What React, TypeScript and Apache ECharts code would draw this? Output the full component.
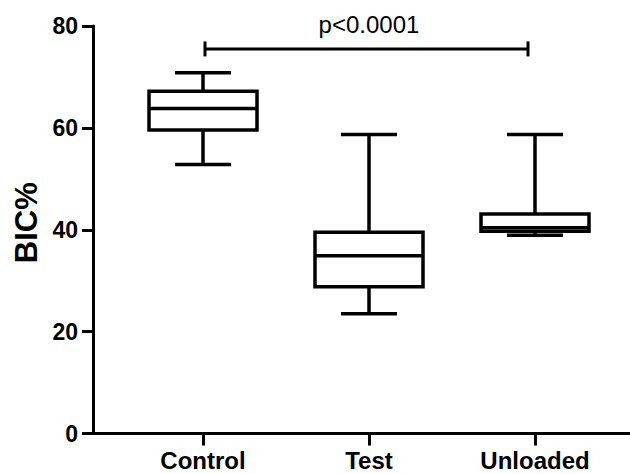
import React, { useEffect, useRef } from "react";
import * as echarts from "echarts";

const categories = ["Control", "Test", "Unloaded"];
const lowWhisker = [52.8, 23.5, 38.9];
const q1 = [59.6, 28.8, 39.7];
const median = [63.8, 34.9, 40.4];
const q3 = [67.2, 39.5, 43.1];
const highWhisker = [70.8, 58.7, 58.7];

const yMin = 0;
const yMax = 80;
const yInterval = 20;
const yAxisTitle = "BIC%";

const bracketPair = ["Control", "Unloaded"];
const bracketY = [75.5];
const significanceLabel = "p<0.0001";

const FONT = "'Liberation Sans', Arial, Helvetica, sans-serif";

export default function App() {
  const ref = useRef<HTMLDivElement>(null);

  useEffect(() => {
    if (!ref.current) return;
    const chart = echarts.init(ref.current, undefined, { renderer: "svg" });

    const boxData = categories.map((c, i) => [
      i,
      lowWhisker[i],
      q1[i],
      median[i],
      q3[i],
      highWhisker[i],
    ]);
    const bracketData = [
      [
        categories.indexOf(bracketPair[0]),
        categories.indexOf(bracketPair[1]),
        bracketY[0],
      ],
    ];

    const option: any = {
      animation: false,
      backgroundColor: "#fff",
      grid: [
        { left: 93, right: 0, top: 26, bottom: 40.5 },
        { left: 120, width: 498, top: 26, bottom: 40.5 },
      ],
      xAxis: [
        {
          gridIndex: 0,
          type: "value",
          min: 0,
          max: 1,
          axisLine: { show: true, lineStyle: { color: "#000", width: 3 } },
          axisTick: { show: false },
          axisLabel: { show: false },
          splitLine: { show: false },
        },
        {
          gridIndex: 1,
          type: "category",
          data: categories,
          axisLine: { show: false },
          axisTick: {
            show: true,
            alignWithLabel: true,
            length: 12,
            lineStyle: { color: "#000", width: 3 },
          },
          axisLabel: {
            color: "#000",
            fontWeight: "bold",
            fontSize: 24,
            fontFamily: FONT,
            margin: 15,
          },
          splitLine: { show: false },
        },
      ],
      yAxis: [
        {
          gridIndex: 0,
          type: "value",
          min: yMin,
          max: yMax,
          interval: yInterval,
          name: yAxisTitle,
          nameLocation: "middle",
          nameGap: 51,
          nameTextStyle: {
            color: "#000",
            fontWeight: "bold",
            fontSize: 31,
            fontFamily: FONT,
            padding: [0, 0, 0, 14],
          },
          axisLine: { show: true, lineStyle: { color: "#000", width: 3 } },
          axisTick: {
            show: true,
            length: 11,
            lineStyle: { color: "#000", width: 3 },
          },
          axisLabel: {
            color: "#000",
            fontWeight: "bold",
            fontSize: 23,
            fontFamily: FONT,
            margin: 15,
          },
          splitLine: { show: false },
        },
        {
          gridIndex: 1,
          type: "value",
          min: yMin,
          max: yMax,
          interval: yInterval,
          show: false,
          splitLine: { show: false },
        },
      ],
      series: [
        {
          type: "custom",
          xAxisIndex: 1,
          yAxisIndex: 1,
          clip: false,
          data: boxData,
          encode: { x: 0, y: [1, 2, 3, 4, 5] },
          renderItem: (params: any, api: any) => {
            const idx = api.value(0);
            const pLow = api.coord([idx, api.value(1)]);
            const pQ1 = api.coord([idx, api.value(2)]);
            const pMed = api.coord([idx, api.value(3)]);
            const pQ3 = api.coord([idx, api.value(4)]);
            const pHigh = api.coord([idx, api.value(5)]);
            const cx = pMed[0];
            const half = 54;
            const cap = 28;
            const ls = { stroke: "#000", lineWidth: 3.5, fill: "none" };
            return {
              type: "group",
              children: [
                { type: "line", shape: { x1: cx, y1: pHigh[1], x2: cx, y2: pQ3[1] }, style: ls },
                { type: "line", shape: { x1: cx, y1: pQ1[1], x2: cx, y2: pLow[1] }, style: ls },
                { type: "line", shape: { x1: cx - cap, y1: pHigh[1], x2: cx + cap, y2: pHigh[1] }, style: ls },
                { type: "line", shape: { x1: cx - cap, y1: pLow[1], x2: cx + cap, y2: pLow[1] }, style: ls },
                {
                  type: "rect",
                  shape: { x: cx - half, y: pQ3[1], width: half * 2, height: pQ1[1] - pQ3[1] },
                  style: { fill: "#fff", stroke: "#000", lineWidth: 3.5 },
                },
                { type: "line", shape: { x1: cx - half, y1: pMed[1], x2: cx + half, y2: pMed[1] }, style: ls },
              ],
            };
          },
        },
        {
          type: "custom",
          xAxisIndex: 1,
          yAxisIndex: 1,
          clip: false,
          data: bracketData,
          encode: { x: [0, 1], y: 2 },
          renderItem: (params: any, api: any) => {
            const a = api.coord([api.value(0), api.value(2)]);
            const b = api.coord([api.value(1), api.value(2)]);
            const x1 = a[0] + 2;
            const x2 = b[0] - 7;
            const y = a[1];
            const ls = { stroke: "#000", lineWidth: 3, fill: "none" };
            return {
              type: "group",
              children: [
                { type: "line", shape: { x1, y1: y, x2, y2: y }, style: ls },
                { type: "line", shape: { x1, y1: y - 7.5, x2: x1, y2: y + 7.5 }, style: ls },
                { type: "line", shape: { x1: x2, y1: y - 7.5, x2, y2: y + 7.5 }, style: ls },
                {
                  type: "text",
                  x: (a[0] + b[0]) / 2,
                  y: y - 12,
                  style: {
                    text: significanceLabel,
                    fill: "#000",
                    fontSize: 24,
                    fontFamily: FONT,
                    align: "center",
                    verticalAlign: "bottom",
                  },
                },
              ],
            };
          },
        },
      ],
    };

    chart.setOption(option);
    return () => chart.dispose();
  }, []);

  return (
    <div
      ref={ref}
      style={{ position: "absolute", left: 0, top: 0, width: 630, height: 474 }}
    />
  );
}
